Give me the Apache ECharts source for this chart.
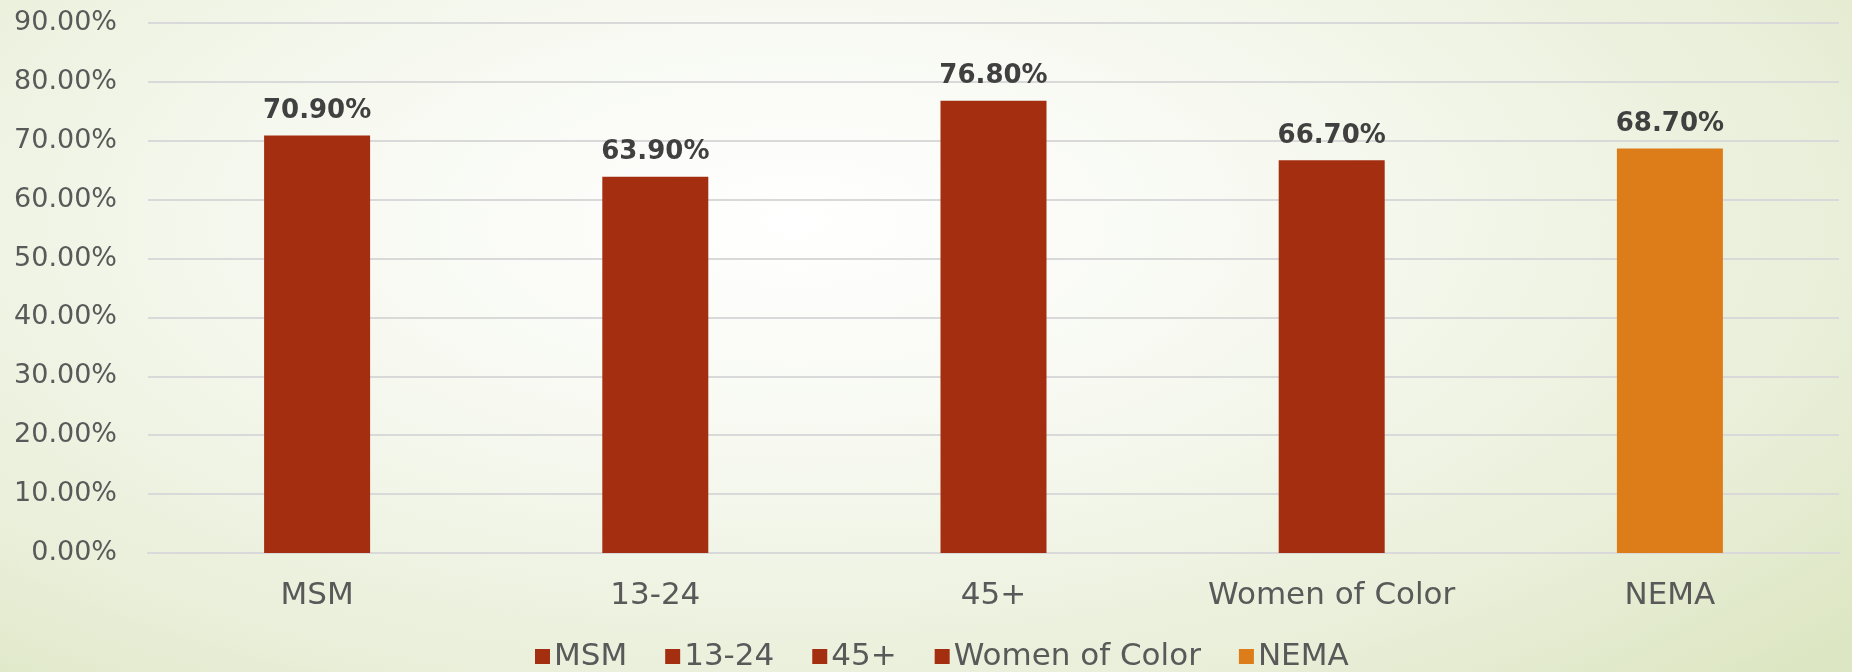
<!DOCTYPE html>
<html>
<head>
<meta charset="utf-8">
<script src="https://cdn.jsdelivr.net/npm/echarts@6/dist/echarts.min.js"></script>
<style>
html,body{margin:0;padding:0;}
#chart{width:1852px;height:672px;background:radial-gradient(ellipse 75% 95% at 43% 33%, #ffffff 0%, #f7f9f1 35%, #e9efd9 75%, #dde6c3 100%);}
</style>
</head>
<body>
<div id="chart"></div>
<script>
const categories = ['MSM', '13-24', '45+', 'Women of Color', 'NEMA'];
const values = [70.9, 63.9, 76.8, 66.7, 68.7];
const colors = ['#A32E10', '#A32E10', '#A32E10', '#A32E10', '#DD7D19'];
const yTicks = { min: 0, max: 90, interval: 10 };

const chart = echarts.init(document.getElementById('chart'));
const FONT = 'DejaVu Sans';
const series = categories.map((name, i) => ({
  name: name,
  type: 'bar',
  stack: 'all',
  barWidth: 106,
  itemStyle: { color: colors[i] },
  data: categories.map((c, j) => (j === i ? values[i] : '-')),
  label: {
    show: true,
    position: 'top',
    distance: 11,
    fontFamily: FONT,
    fontWeight: 'bold',
    fontSize: 26,
    color: '#404040',
    formatter: p => Number(p.value).toFixed(2) + '%'
  }
}));

chart.setOption({
  backgroundColor: 'transparent',
  animation: false,
  grid: { left: 148, right: 13, top: 23, bottom: 119 },
  legend: {
    data: categories,
    bottom: -5,
    left: 530,
    icon: 'rect',
    itemWidth: 15,
    itemHeight: 15,
    itemGap: 38,
    textStyle: { fontFamily: FONT, fontSize: 31, color: '#595959', padding: [0, 0, 0, -1] }
  },
  xAxis: {
    type: 'category',
    data: categories,
    axisTick: { show: false },
    axisLine: { lineStyle: { color: '#d9d9d9', width: 2 } },
    axisLabel: { margin: 27, fontFamily: FONT, fontSize: 31, color: '#595959' }
  },
  yAxis: {
    type: 'value',
    min: yTicks.min,
    max: yTicks.max,
    interval: yTicks.interval,
    axisLine: { show: false },
    axisTick: { show: false },
    splitLine: { lineStyle: { color: '#d9d9d9', width: 2 } },
    axisLabel: {
      margin: 31,
      fontFamily: FONT,
      fontSize: 27,
      color: '#595959',
      formatter: v => v.toFixed(2) + '%'
    }
  },
  series: series
});
</script>
</body>
</html>
